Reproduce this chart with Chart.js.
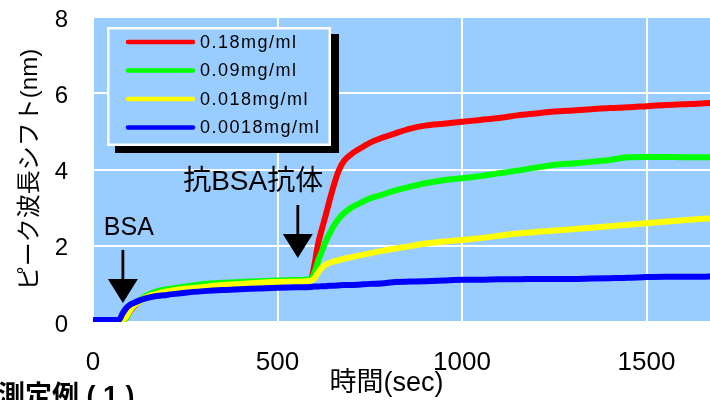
<!DOCTYPE html>
<html><head><meta charset="utf-8">
<script src="https://cdn.jsdelivr.net/npm/chart.js@4.4.1/dist/chart.umd.min.js"></script>
<style>html,body{margin:0;padding:0;background:#fff;overflow:hidden}canvas{display:block}</style>
</head><body>
<canvas id="c" width="710" height="400"></canvas>
<script>
// ---- data ----
const times = [0,40,70,80,90,100,110,125,140,160,180,200,250,300,350,400,450,500,550,590,600,610,620,630,640,650,665,680,700,720,750,780,820,860,900,950,1000,1050,1100,1150,1200,1250,1300,1350,1400,1450,1500,1550,1600,1650,1680];
const seriesNames = ['0.18mg/ml','0.09mg/ml','0.018mg/ml','0.0018mg/ml'];
const red = [0.05,0.05,0.05,0.05,0.12,0.28,0.4,0.54,0.64,0.73,0.8,0.84,0.91,0.97,1.0,1.02,1.04,1.06,1.08,1.1,1.5,2.05,2.43,2.78,3.15,3.5,3.95,4.22,4.4,4.53,4.7,4.82,4.95,5.07,5.15,5.2,5.25,5.3,5.35,5.42,5.47,5.52,5.55,5.58,5.61,5.63,5.66,5.69,5.71,5.73,5.75];
const green = [0.05,0.05,0.05,0.05,0.1,0.3,0.42,0.56,0.67,0.76,0.82,0.86,0.93,1.0,1.03,1.05,1.07,1.09,1.1,1.12,1.3,1.6,1.85,2.1,2.3,2.48,2.7,2.85,3.0,3.1,3.24,3.33,3.45,3.55,3.64,3.72,3.77,3.83,3.9,3.97,4.05,4.12,4.16,4.2,4.25,4.32,4.33,4.33,4.32,4.32,4.32];
const yellow = [0.05,0.05,0.05,0.05,0.14,0.3,0.42,0.53,0.63,0.71,0.76,0.8,0.87,0.92,0.97,1.0,1.03,1.05,1.06,1.08,1.15,1.3,1.42,1.5,1.55,1.58,1.62,1.66,1.7,1.74,1.8,1.86,1.93,1.99,2.06,2.11,2.15,2.2,2.26,2.32,2.36,2.4,2.43,2.47,2.51,2.55,2.59,2.63,2.67,2.71,2.72];
const blue = [0.05,0.05,0.05,0.22,0.36,0.45,0.5,0.56,0.61,0.66,0.69,0.71,0.77,0.81,0.84,0.86,0.88,0.9,0.91,0.92,0.93,0.93,0.94,0.94,0.95,0.95,0.96,0.97,0.97,0.98,1.0,1.01,1.05,1.06,1.07,1.09,1.11,1.11,1.12,1.12,1.13,1.13,1.13,1.14,1.15,1.16,1.18,1.19,1.19,1.19,1.2];
const xTickValues = [0,500,1000,1500];
const yTickValues = [0,2,4,6,8];
const xTitle = '時間(sec)';
const yTitle = 'ピーク波長シフト(nm)';
const notes = [
  {text:'BSA', tx:97, ty:2.45, ax:81, from:1.89, to:0.5},
  {text:'抗BSA抗体', tx:434, ty:3.66, ax:555, from:3.07, to:1.68}
];
const caption = '測定例 ( 1 )';

// ---- styles ----
const colors = ['#ff0000','#00ff00','#ffff00','#0000ff'];
const FONT = "'Liberation Sans','Noto Sans CJK JP',sans-serif";
Chart.defaults.font.family = FONT;
Chart.defaults.color = '#000';

const values = [red, green, yellow, blue];
const datasets = values.map((v, i) => ({
  label: seriesNames[i],
  data: times.map((t, k) => ({x: t, y: v[k]})),
  borderColor: colors[i],
  backgroundColor: colors[i],
  borderWidth: 6,
  pointRadius: 0,
  cubicInterpolationMode: 'monotone',
  borderJoinStyle: 'round',
  borderCapStyle: 'round'
})).reverse(); // blue drawn on top, red underneath

const bgPlugin = {
  id: 'bg',
  beforeDraw(chart) {
    const {ctx, chartArea: a} = chart;
    ctx.save();
    ctx.fillStyle = '#99ccff';
    ctx.fillRect(a.left, a.top, a.right - a.left, a.bottom - a.top);
    ctx.restore();
  }
};

const overlayPlugin = {
  id: 'overlay',
  afterDatasetsDraw(chart) {
    const {ctx, scales: {x, y}} = chart;
    ctx.save();
    // annotations
    notes.forEach(n => {
      const px = x.getPixelForValue(n.ax);
      const y1 = y.getPixelForValue(n.from);
      const y2 = y.getPixelForValue(n.to);
      const headH = 24, headW = 30;
      ctx.strokeStyle = '#000'; ctx.fillStyle = '#000'; ctx.lineWidth = 2.8;
      ctx.beginPath(); ctx.moveTo(px, y1); ctx.lineTo(px, y2 - headH + 2); ctx.stroke();
      ctx.beginPath(); ctx.moveTo(px - headW / 2, y2 - headH); ctx.lineTo(px + headW / 2, y2 - headH); ctx.lineTo(px, y2); ctx.closePath(); ctx.fill();
      ctx.font = (n.text === 'BSA' ? '25px ' : '28px ') + FONT;
      ctx.textAlign = 'center'; ctx.textBaseline = 'middle';
      ctx.fillText(n.text, x.getPixelForValue(n.tx), y.getPixelForValue(n.ty));
    });
    // legend
    const bx = 107, by = 27, bw = 224, bh = 119;
    ctx.fillStyle = '#000';
    ctx.fillRect(bx + 8, by + 7, bw, bh);
    ctx.fillStyle = '#99ccff';
    ctx.fillRect(bx, by, bw, bh);
    ctx.strokeStyle = '#fff'; ctx.lineWidth = 2.5;
    ctx.strokeRect(bx + 1.25, by + 1.25, bw - 2.5, bh - 2.5);
    ctx.font = '18px ' + FONT;
    ctx.textAlign = 'left'; ctx.textBaseline = 'middle';
    try { ctx.letterSpacing = '1.5px'; } catch (e) {}
    seriesNames.forEach((name, i) => {
      const ry = 42 + i * 28.5;
      ctx.strokeStyle = colors[i]; ctx.lineWidth = 4.5; ctx.lineCap = 'round';
      ctx.beginPath(); ctx.moveTo(128, ry); ctx.lineTo(193, ry); ctx.stroke();
      ctx.fillStyle = '#000';
      ctx.fillText(name, 200, ry + 1);
    });
    try { ctx.letterSpacing = '0px'; } catch (e) {}
    // caption at bottom-left
    ctx.font = 'bold 27px ' + FONT;
    ctx.textBaseline = 'alphabetic';
    ctx.fillStyle = '#000';
    ctx.fillText(caption, -2, 405);
    ctx.restore();
  }
};

new Chart(document.getElementById('c'), {
  type: 'line',
  data: {datasets},
  options: {
    responsive: false,
    animation: false,
    devicePixelRatio: 1,
    layout: {padding: {top: 17, right: 0, bottom: 0, left: 0}},
    plugins: {legend: {display: false}, tooltip: {enabled: false}},
    scales: {
      x: {
        type: 'linear', min: 0, max: 1672,
        afterFit(s) { s.height = 78; s.paddingLeft = 0; s.paddingRight = 0; },
        afterBuildTicks(s) { s.ticks = xTickValues.map(v => ({value: v})); },
        ticks: {font: {size: 26}, padding: 25, includeBounds: false, maxRotation: 0, callback: v => String(v)},
        grid: {color: '#fff', lineWidth: 2, drawTicks: false},
        border: {display: false},
        title: {display: true, text: xTitle + '    ', font: {size: 27}, padding: {top: 0, bottom: 0}}
      },
      y: {
        type: 'linear', min: 0, max: 8,
        afterFit(s) { s.width = 93; s.paddingTop = 0; s.paddingBottom = 0; },
        afterBuildTicks(s) { s.ticks = yTickValues.map(v => ({value: v})); },
        ticks: {font: {size: 24}, padding: 25, labelOffset: 3, callback: v => String(v)},
        grid: {color: '#fff', lineWidth: 2, drawTicks: false},
        border: {display: false},
        title: {display: true, text: yTitle, font: {size: 24}, padding: {top: 16, bottom: 0}}
      }
    }
  },
  plugins: [bgPlugin, overlayPlugin]
});
</script>
</body></html>
